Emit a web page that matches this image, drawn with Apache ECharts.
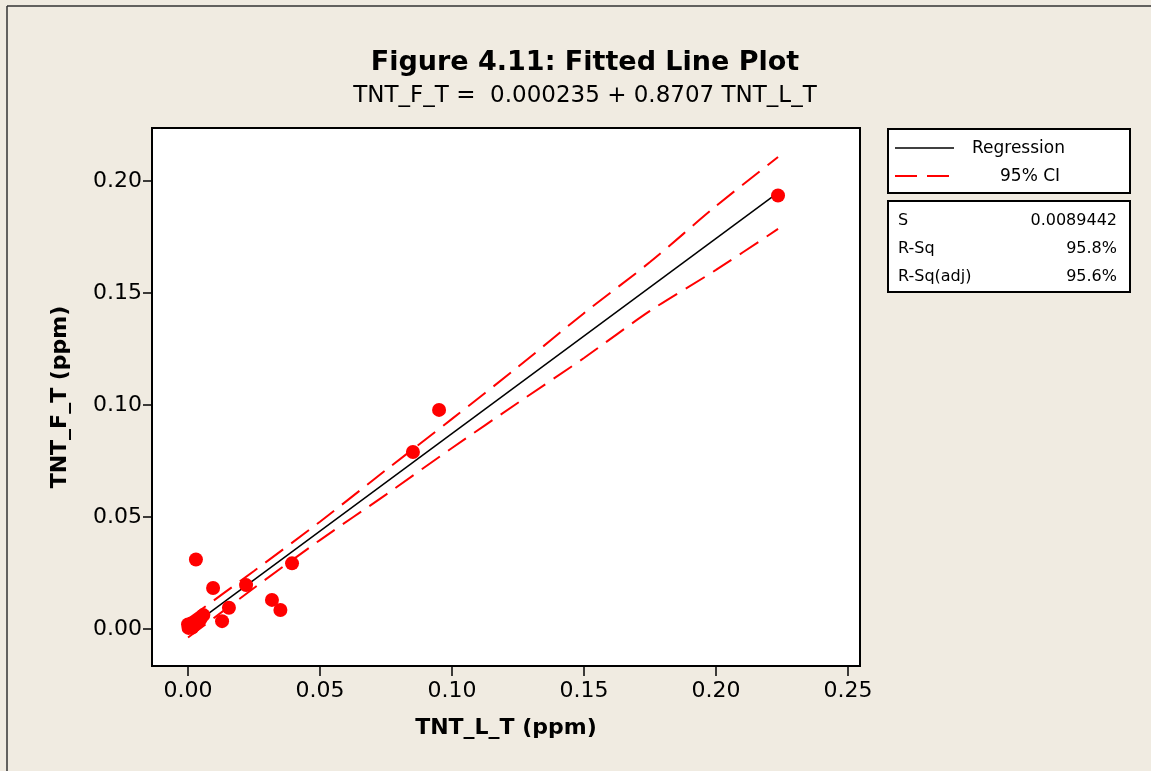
<!DOCTYPE html>
<html>
<head>
    <meta charset="utf-8">
    <script type="text/javascript" src="https://cdn.jsdelivr.net/npm/echarts@6/dist/echarts.min.js"></script>
    <style type="text/css">
        *{
            margin: 0;
            padding: 0;
        }
        body{
            background: #f0ebe1;
        }
        #main{
            width: 1151px;
            height: 771px;
        }
    </style>
</head>
<body>
<div id="main"></div>
<script type="text/javascript">
    var obsX = [0.2235, 0.0951, 0.0852, 0.0394, 0.0220, 0.0030, 0.0095, 0.0318, 0.0350, 0.0155, 0.0129,
                0.0000, 0.0006, 0.0012, 0.0022, 0.0030, 0.0040, 0.0058, 0.0002, 0.0016, 0.0048];
    var obsY = [0.1935, 0.0978, 0.0790, 0.0293, 0.0196, 0.0310, 0.0183, 0.0130, 0.0085, 0.0095, 0.0035,
                0.0020, 0.0010, 0.0024, 0.0016, 0.0030, 0.0038, 0.0062, 0.0005, 0.0006, 0.0046];

    // fitted line ends
    var fitX = [0.0000, 0.2235];
    var fitY = [0.0002, 0.1948];

    // 95% CI band, read at these x values
    var bandX     = [0.0000, 0.0250, 0.0500, 0.0750, 0.1000, 0.1250, 0.1500, 0.1750, 0.2000, 0.2235];
    var bandUpper = [0.0044, 0.0259, 0.0479, 0.0710, 0.0938, 0.1170, 0.1410, 0.1638, 0.1888, 0.2107];
    var bandLower = [-0.0038, 0.0183, 0.0397, 0.0600, 0.0808, 0.1010, 0.1210, 0.1420, 0.1603, 0.1786];

    // tick labels
    var xTicks = [0, 0.05, 0.10, 0.15, 0.20, 0.25];
    var yTicks = [0, 0.05, 0.10, 0.15, 0.20];

    var statNames = ['S', 'R-Sq', 'R-Sq(adj)'];
    var statValues = ['0.0089442', '95.8%', '95.6%'];

    function pairs(xs, ys) {
        var out = [];
        for (var i = 0; i < xs.length; i++) {
            out.push([xs[i], ys[i]]);
        }
        return out;
    }

    var font = 'DejaVu Sans';
    var myChart = echarts.init(document.getElementById('main'));

    var graphics = [
        // outer frame (left + top edges)
        { type: 'line', shape: { x1: 7, y1: 6, x2: 1151, y2: 6 }, style: { stroke: '#333', lineWidth: 1.5 } },
        { type: 'line', shape: { x1: 7, y1: 6, x2: 7, y2: 771 }, style: { stroke: '#333', lineWidth: 1.5 } },
        // legend box
        { type: 'rect', shape: { x: 888, y: 129, width: 242, height: 64 },
          style: { fill: '#ffffff', stroke: '#000', lineWidth: 2 } },
        { type: 'line', shape: { x1: 895, y1: 148, x2: 954, y2: 148 }, style: { stroke: '#000', lineWidth: 1.5 } },
        { type: 'text', x: 972, y: 149, style: { text: 'Regression', font: '17px "DejaVu Sans"', fill: '#000', verticalAlign: 'middle' } },
        { type: 'line', shape: { x1: 895, y1: 176, x2: 950, y2: 176 }, style: { stroke: '#ff0000', lineWidth: 2, lineDash: [22, 10] } },
        { type: 'text', x: 1000, y: 177, style: { text: '95% CI', font: '17px "DejaVu Sans"', fill: '#000', verticalAlign: 'middle' } },
        // stats box
        { type: 'rect', shape: { x: 888, y: 201, width: 242, height: 91 },
          style: { fill: '#ffffff', stroke: '#000', lineWidth: 2 } }
    ];
    for (var i = 0; i < statNames.length; i++) {
        var sy = 221 + i * 28;
        graphics.push({ type: 'text', x: 898, y: sy, style: { text: statNames[i], font: '16px "DejaVu Sans"', fill: '#000', verticalAlign: 'middle' } });
        graphics.push({ type: 'text', x: 1117, y: sy, style: { text: statValues[i], font: '16px "DejaVu Sans"', fill: '#000', align: 'right', verticalAlign: 'middle' } });
    }

    var option = {
        backgroundColor: '#f0ebe1',
        animation: false,
        title: {
            text: 'Figure 4.11: Fitted Line Plot',
            subtext: 'TNT_F_T =  0.000235 + 0.8707 TNT_L_T',
            left: 580,
            textAlign: 'center',
            top: 44,
            itemGap: 9,
            textStyle: { fontFamily: font, fontSize: 27, fontWeight: 'bold', color: '#000' },
            subtextStyle: { fontFamily: font, fontSize: 23, color: '#000' }
        },
        grid: {
            left: 152,
            right: 291,
            top: 128,
            bottom: 105,
            show: true,
            backgroundColor: '#ffffff',
            borderColor: '#000',
            borderWidth: 2
        },
        xAxis: {
            type: 'value',
            min: -0.01364,
            max: 0.25455,
            name: 'TNT_L_T (ppm)',
            nameLocation: 'middle',
            nameGap: 51,
            nameTextStyle: { fontFamily: font, fontSize: 22, fontWeight: 'bold', color: '#000' },
            axisLine: { show: true, onZero: false, lineStyle: { color: '#000', width: 2 } },
            axisTick: { show: true, inside: false, length: 10, customValues: xTicks, lineStyle: { color: '#000', width: 1.5 } },
            axisLabel: { fontFamily: font, fontSize: 22, color: '#000', margin: 14, customValues: xTicks,
                formatter: function (v) { return v.toFixed(2); } },
            splitLine: { show: false }
        },
        yAxis: {
            type: 'value',
            min: -0.01652,
            max: 0.22366,
            name: 'TNT_F_T (ppm)',
            nameLocation: 'middle',
            nameGap: 81,
            nameTextStyle: { fontFamily: font, fontSize: 22, fontWeight: 'bold', color: '#000' },
            axisLine: { show: true, onZero: false, lineStyle: { color: '#000', width: 2 } },
            axisTick: { show: true, inside: false, length: 9, customValues: yTicks, lineStyle: { color: '#000', width: 1.5 } },
            axisLabel: { fontFamily: font, fontSize: 22, color: '#000', margin: 10, customValues: yTicks,
                formatter: function (v) { return v.toFixed(2); } },
            splitLine: { show: false }
        },
        graphic: graphics,
        series: [
            {
                name: '95% CI upper',
                type: 'line',
                data: pairs(bandX, bandUpper),
                smooth: 0.3,
                showSymbol: false,
                lineStyle: { color: '#ff0000', width: 2, type: [22, 10] },
                z: 2
            },
            {
                name: '95% CI lower',
                type: 'line',
                data: pairs(bandX, bandLower),
                smooth: 0.3,
                showSymbol: false,
                lineStyle: { color: '#ff0000', width: 2, type: [22, 10] },
                z: 2
            },
            {
                name: 'Regression',
                type: 'line',
                data: pairs(fitX, fitY),
                showSymbol: false,
                lineStyle: { color: '#000', width: 1.5 },
                z: 3
            },
            {
                name: 'TNT',
                type: 'scatter',
                data: pairs(obsX, obsY),
                symbolSize: 14,
                itemStyle: { color: '#ff0000', opacity: 1 },
                z: 4
            }
        ]
    };
    myChart.setOption(option);
</script>
</body>
</html>
